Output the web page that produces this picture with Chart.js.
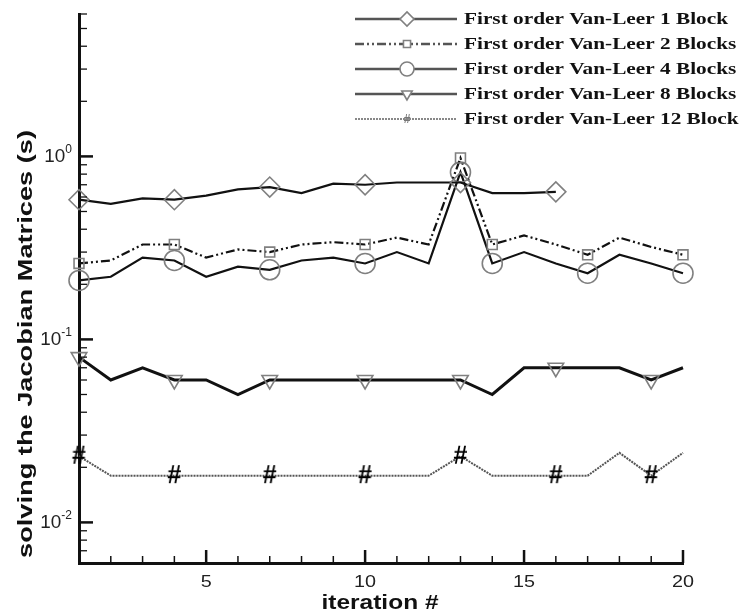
<!DOCTYPE html>
<html>
<head>
<meta charset="utf-8">
<script src="https://cdn.jsdelivr.net/npm/chart.js@4.4.1/dist/chart.umd.min.js"></script>
<style>
  body { margin: 0; background: #fff; }
  #wrap { width: 747px; height: 616px; }
</style>
</head>
<body>
<div id="wrap"><canvas id="JacobianChart" width="747" height="616"></canvas></div>
<script>
// iteration numbers
const iterations = [1, 2, 3, 4, 5, 6, 7, 8, 9, 10, 11, 12, 13, 14, 15, 16, 17, 18, 19, 20];

// time spent solving the Jacobian matrices (s)
const block1 = [0.58, 0.55, 0.59, 0.58, 0.61, 0.66, 0.68, 0.63, 0.71, 0.70, 0.72, 0.72, 0.72, 0.63, 0.63, 0.64];
const block2 = [0.26, 0.27, 0.33, 0.33, 0.28, 0.31, 0.30, 0.33, 0.34, 0.33, 0.36, 0.33, 0.98, 0.33, 0.37, 0.33, 0.29, 0.36, 0.32, 0.29];
const block4 = [0.21, 0.22, 0.28, 0.27, 0.22, 0.25, 0.24, 0.27, 0.28, 0.26, 0.30, 0.26, 0.82, 0.26, 0.30, 0.26, 0.23, 0.29, 0.26, 0.23];
const block8 = [0.08, 0.06, 0.07, 0.06, 0.06, 0.05, 0.06, 0.06, 0.06, 0.06, 0.06, 0.06, 0.06, 0.05, 0.07, 0.07, 0.07, 0.07, 0.06, 0.07];
const block12 = [0.023, 0.018, 0.018, 0.018, 0.018, 0.018, 0.018, 0.018, 0.018, 0.018, 0.018, 0.018, 0.023, 0.018, 0.018, 0.018, 0.018, 0.024, 0.018, 0.024];

const seriesLabels = [
  "First order Van-Leer 1 Block",
  "First order Van-Leer 2 Blocks",
  "First order Van-Leer 4 Blocks",
  "First order Van-Leer 8 Blocks",
  "First order Van-Leer 12 Block"
];
const xTickLabels = [5, 10, 15, 20];
const yDecades = [-2, -1, 0];
const xTitle = "iteration #";
const yTitle = "solving the Jacobian Matrices (s)";

// which points carry a symbol
const markEvery3 = [0, 3, 6, 9, 12, 15, 18];
const markSquares = [0, 3, 6, 9, 12, 13, 16, 19];

function hashMarker(size, color) {
  const c = document.createElement("canvas");
  c.width = size; c.height = size;
  const g = c.getContext("2d");
  g.fillStyle = color;
  g.font = "bold " + size + "px 'Liberation Sans', Arial";
  g.textAlign = "center";
  g.textBaseline = "middle";
  g.fillText("#", size / 2, size / 2 + 1);
  return c;
}
const hashBig = hashMarker(25, "#000");
const hashSmall = hashMarker(12, "#777");

function toXY(arr) {
  return arr.map((v, i) => ({ x: iterations[i], y: v }));
}
function radiusAt(list, r) {
  return (ctx) => (list.includes(ctx.dataIndex) ? r : 0);
}

const markerColor = "#808080";
const datasets = [
  { label: seriesLabels[0], data: toXY(block1), borderColor: "#111", borderWidth: 2.2,
    pointStyle: "rectRot", pointRadius: radiusAt(markEvery3, 10), legendRadius: 7 },
  { label: seriesLabels[1], data: toXY(block2), borderColor: "#111", borderWidth: 2.2,
    borderDash: [9, 3, 2, 3, 2, 3], pointStyle: "rect", pointRadius: radiusAt(markSquares, 7), legendRadius: 5 },
  { label: seriesLabels[2], data: toXY(block4), borderColor: "#111", borderWidth: 2.2,
    pointStyle: "circle", pointRadius: radiusAt(markSquares, 10), legendRadius: 7 },
  { label: seriesLabels[3], data: toXY(block8), borderColor: "#111", borderWidth: 3,
    pointStyle: "triangle", pointRotation: 180, pointRadius: radiusAt(markEvery3, 9), legendRadius: 6 },
  { label: seriesLabels[4], data: toXY(block12), borderColor: "#555", borderWidth: 2,
    borderDash: [2, 1], pointStyle: hashBig, pointRadius: radiusAt(markEvery3, 10), legendRadius: 6 }
];
datasets.forEach((d) => {
  d.pointBorderColor = markerColor;
  d.pointBackgroundColor = "rgba(0,0,0,0)";
  d.pointBorderWidth = 1.6;
  d.tension = 0;
  d.clip = false;
  d.fill = false;
});

function stretchedText(ctx, text, x, y, font, width, align) {
  ctx.save();
  ctx.font = font;
  const w = ctx.measureText(text).width;
  const sx = width ? width / w : 1;
  ctx.translate(x, y);
  ctx.scale(sx, 1);
  ctx.textAlign = align || "left";
  ctx.fillText(text, 0, 0);
  ctx.restore();
  return w * sx;
}

const axisDecor = {
  id: "axisDecor",
  afterDraw(chart) {
    const ctx = chart.ctx;
    const xs = chart.scales.x;
    const ys = chart.scales.y;
    const area = chart.chartArea;
    ctx.save();
    ctx.strokeStyle = "#111";
    ctx.fillStyle = "#222";

    // x ticks, pointing into the plot
    iterations.forEach((v) => {
      if (v === 1) return;
      const px = xs.getPixelForValue(v);
      const major = v % 5 === 0;
      ctx.lineWidth = major ? 2.5 : 1.5;
      ctx.beginPath();
      ctx.moveTo(px, area.bottom);
      ctx.lineTo(px, area.bottom - (major ? 13 : 7));
      ctx.stroke();
    });
    ctx.textBaseline = "middle";
    xTickLabels.forEach((v) => {
      const px = xs.getPixelForValue(v);
      const label = String(v);
      stretchedText(ctx, label, px, area.bottom + 19, "17px 'Liberation Sans', Arial", label.length * 11, "center");
    });

    // y ticks on the log axis
    yDecades.concat([-3]).forEach((d) => {
      for (let m = 1; m <= 9; m++) {
        const v = m * Math.pow(10, d);
        if (v < ys.min - 1e-9 || v > ys.max + 1e-9) continue;
        const py = ys.getPixelForValue(v);
        ctx.lineWidth = m === 1 ? 2.5 : 1.3;
        ctx.beginPath();
        ctx.moveTo(area.left, py);
        ctx.lineTo(area.left + (m === 1 ? 14 : 8), py);
        ctx.stroke();
      }
    });
    yDecades.forEach((d) => {
      const py = ys.getPixelForValue(Math.pow(10, d));
      const sup = d === 0 ? "0" : "-" + Math.abs(d);
      ctx.font = "12px 'Liberation Sans', Arial";
      ctx.textAlign = "right";
      ctx.textBaseline = "middle";
      const sw = ctx.measureText(sup).width;
      ctx.fillText(sup, area.left - 7, py - 7);
      stretchedText(ctx, "10", area.left - 7 - sw, py + 1, "18px 'Liberation Sans', Arial", 21, "right");
    });

    // axis titles
    ctx.fillStyle = "#111";
    ctx.textBaseline = "middle";
    stretchedText(ctx, xTitle, (area.left + area.right) / 2 - 1, 603, "bold 21px 'Liberation Sans', Arial", 117, "center");
    ctx.save();
    ctx.translate(26, 344);
    ctx.rotate(-Math.PI / 2);
    stretchedText(ctx, yTitle, 0, 0, "bold 21px 'Liberation Sans', Arial", 428, "center");
    ctx.restore();

    // legend in the upper right corner
    const legendFont = "bold 17px 'Liberation Serif', 'Times New Roman', serif";
    ctx.font = legendFont;
    const sx = 264 / ctx.measureText(seriesLabels[0]).width;
    chart.data.datasets.forEach((ds, i) => {
      const y = 19 + i * 25;
      ctx.save();
      ctx.strokeStyle = i === 4 ? "#888" : "#555";
      ctx.lineWidth = i === 4 ? 2 : 2.5;
      ctx.setLineDash(ds.borderDash ? ds.borderDash : []);
      ctx.beginPath();
      ctx.moveTo(355, y);
      ctx.lineTo(457, y);
      ctx.stroke();
      ctx.restore();
      const ptStyle = i === 4 ? hashSmall : ds.pointStyle;
      ctx.save();
      ctx.strokeStyle = markerColor;
      ctx.fillStyle = "#fff";
      ctx.lineWidth = 1.6;
      Chart.helpers.drawPoint(ctx, {
        pointStyle: ptStyle,
        radius: ds.legendRadius,
        rotation: ds.pointRotation || 0,
        borderWidth: 1.6
      }, 407, y);
      ctx.restore();
      ctx.save();
      ctx.fillStyle = "#111";
      ctx.font = legendFont;
      ctx.textAlign = "left";
      ctx.textBaseline = "middle";
      ctx.translate(464, y + 1);
      ctx.scale(sx, 1);
      ctx.fillText(ds.label, 0, 0);
      ctx.restore();
    });
    ctx.restore();
  }
};

const chart = new Chart(document.getElementById("JacobianChart").getContext("2d"), {
  type: "line",
  data: { datasets: datasets },
  options: {
    responsive: false,
    animation: false,
    events: [],
    layout: { padding: { left: 79, right: 64, top: 14, bottom: 53 } },
    plugins: { legend: { display: false }, tooltip: { enabled: false } },
    scales: {
      x: {
        type: "linear", min: 1, max: 20,
        ticks: { display: false },
        grid: { display: false, drawTicks: false },
        border: { display: true, color: "#111", width: 3 }
      },
      y: {
        type: "logarithmic", min: 0.006, max: 6,
        ticks: { display: false },
        grid: { display: false, drawTicks: false },
        border: { display: true, color: "#111", width: 3 }
      }
    }
  },
  plugins: [axisDecor]
});
</script>
</body>
</html>
